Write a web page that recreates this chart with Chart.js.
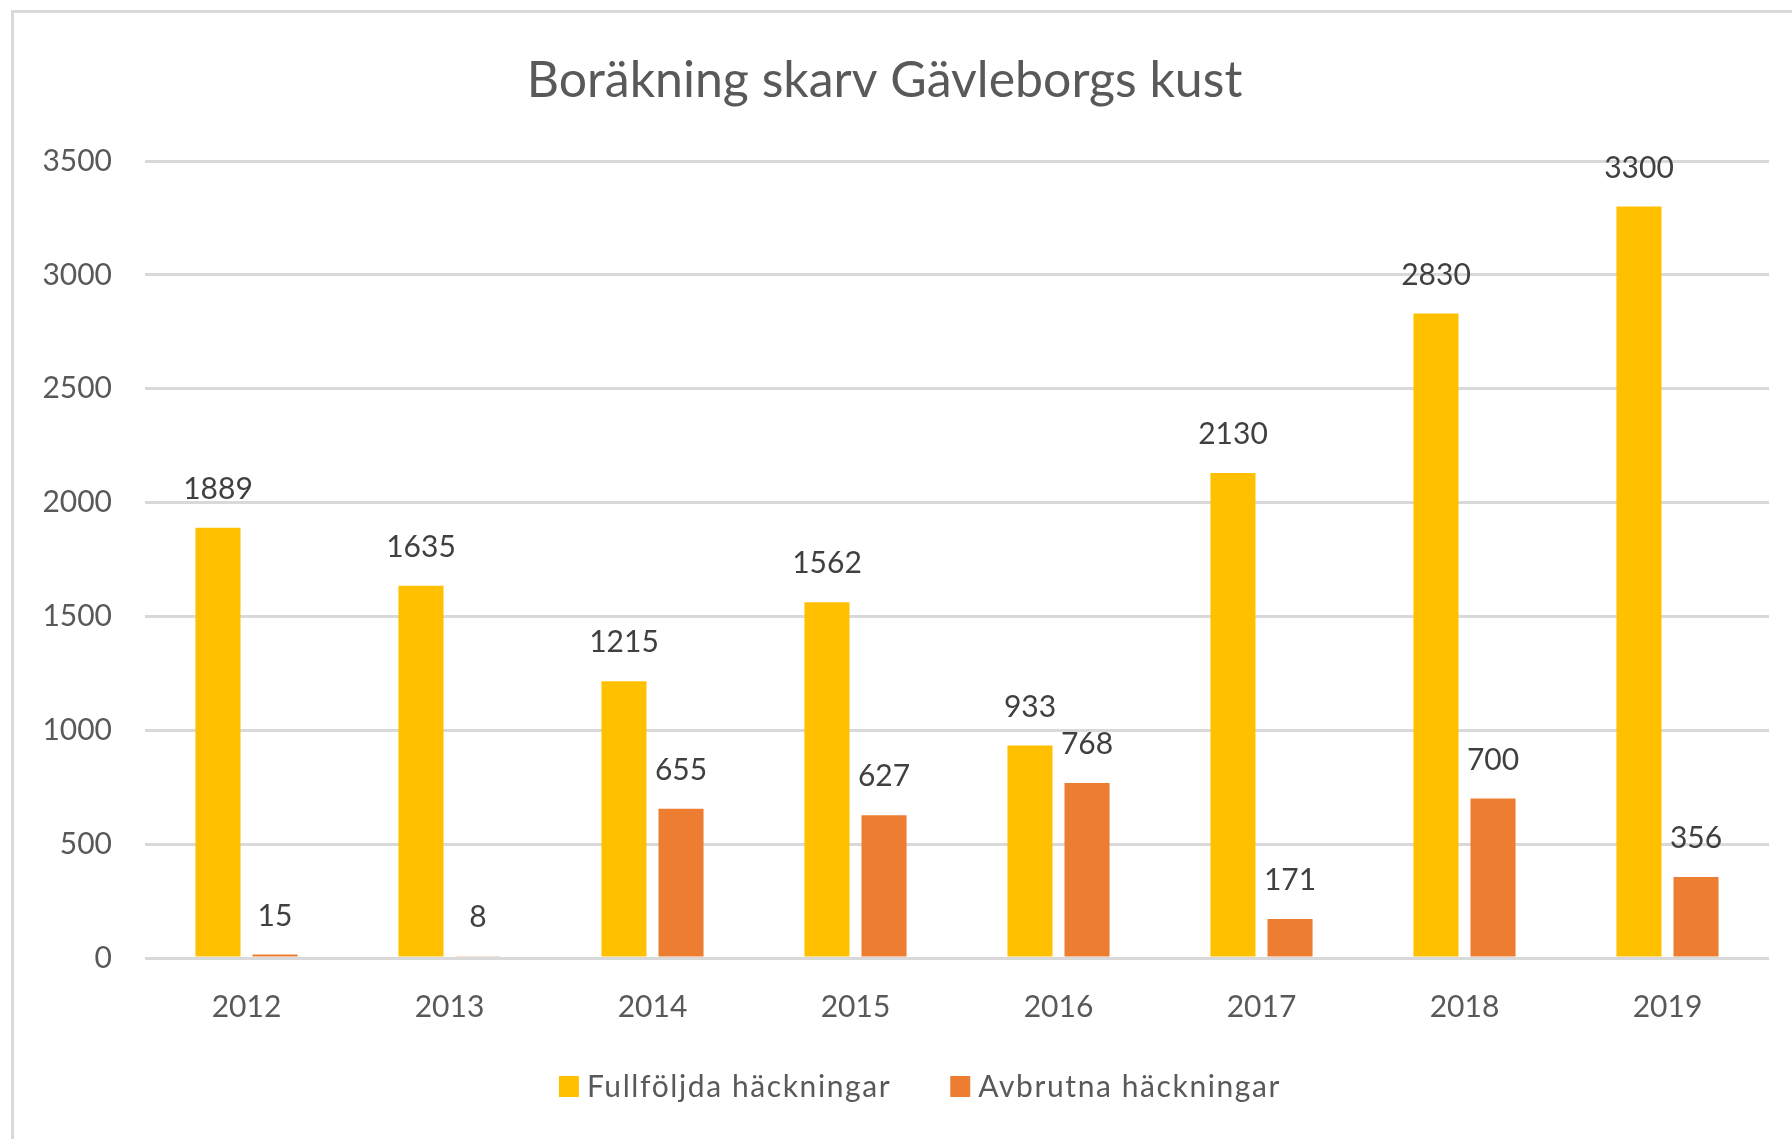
<!DOCTYPE html>
<html>
<head>
<meta charset="utf-8">
<title>Boräkning skarv Gävleborgs kust</title>
<script src="https://cdn.jsdelivr.net/npm/chart.js"></script>
<style>
  html, body { margin: 0; padding: 0; background: #fff; overflow: hidden; }
  #wrap { position: relative; width: 1792px; height: 1139px; }
  #frame {
    position: absolute; left: 11px; top: 10px; width: 1900px; height: 1300px;
    border-left: 3px solid #d9d9d9; border-top: 3px solid #d9d9d9;
    pointer-events: none;
  }
  canvas { position: absolute; left: 0; top: 0; }
</style>
</head>
<body>
<div id="wrap">
  <canvas id="chart" width="1792" height="1139"></canvas>
  <div id="frame"></div>
</div>
<script>
// chart data
const titleText = 'Boräkning skarv Gävleborgs kust';
const years = ['2012', '2013', '2014', '2015', '2016', '2017', '2018', '2019'];
const fullfoljda = [1889, 1635, 1215, 1562, 933, 2130, 2830, 3300];
const avbrutna = [15, 8, 655, 627, 768, 171, 700, 356];
const seriesNames = ['Fullföljda häckningar', 'Avbrutna häckningar'];
const yTicks = [0, 500, 1000, 1500, 2000, 2500, 3000, 3500];

const FONT = 'Lato, Carlito, Calibri, sans-serif';
const TEXT = '#595959';
const YELLOW = '#FFC000';
const ORANGE = '#ED7D31';

// value labels above each bar
const barLabels = {
  id: 'barLabels',
  afterDatasetsDraw(chart) {
    const ctx = chart.ctx;
    ctx.save();
    ctx.font = '30px ' + FONT;
    ctx.fillStyle = '#404040';
    ctx.textAlign = 'center';
    ctx.textBaseline = 'alphabetic';
    chart.data.datasets.forEach((ds, i) => {
      chart.getDatasetMeta(i).data.forEach((bar, j) => {
        ctx.fillText(String(ds.data[j]), bar.x, bar.y - 29);
      });
    });
    ctx.restore();
  }
};

// legend under the axis, like the excel one
const bottomLegend = {
  id: 'bottomLegend',
  afterDraw(chart) {
    const ctx = chart.ctx;
    ctx.save();
    ctx.font = '30px ' + FONT;
    ctx.textBaseline = 'alphabetic';
    ctx.letterSpacing = '1.6px';
    const items = chart.data.datasets.map(ds => ({
      text: ds.label, color: ds.backgroundColor, w: ctx.measureText(ds.label).width
    }));
    const box = 20, gap = 8, between = 59;
    let total = 0;
    items.forEach((it, i) => { total += box + gap + it.w + (i ? between : 0); });
    let x = 920 - total / 2;
    const baseY = 1097;
    items.forEach((it, i) => {
      if (i) x += between;
      ctx.fillStyle = it.color;
      ctx.fillRect(x, baseY - 21, box, 21);
      x += box + gap;
      ctx.fillStyle = TEXT;
      ctx.fillText(it.text, x, baseY);
      x += it.w;
    });
    ctx.restore();
  }
};

new Chart(document.getElementById('chart'), {
  type: 'bar',
  data: {
    labels: years,
    datasets: [
      { label: seriesNames[0], data: fullfoljda, backgroundColor: YELLOW,
        categoryPercentage: 0.562, barPercentage: 0.79 },
      { label: seriesNames[1], data: avbrutna, backgroundColor: ORANGE,
        categoryPercentage: 0.562, barPercentage: 0.79 }
    ]
  },
  options: {
    responsive: false,
    animation: false,
    layout: { padding: { left: 0, right: 23, top: 0, bottom: 91 } },
    scales: {
      x: {
        grid: { display: false },
        border: { display: false },
        ticks: { color: TEXT, font: { family: FONT, size: 30 }, padding: 23 },
        afterFit(scale) { scale.height = 90; }
      },
      y: {
        min: 0,
        max: 3500,
        afterBuildTicks(scale) { scale.ticks = yTicks.map(v => ({ value: v })); },
        grid: { color: '#d9d9d9', lineWidth: 3, drawTicks: false },
        border: { display: false },
        ticks: {
          color: TEXT,
          font: { family: FONT, size: 30 },
          padding: 33,
          callback: (v) => String(v)
        },
        afterFit(scale) { scale.width = 145; }
      }
    },
    plugins: {
      legend: { display: false },
      tooltip: { enabled: false },
      title: {
        display: true,
        text: titleText,
        color: TEXT,
        font: { family: FONT, size: 50, weight: 'normal' },
        padding: { top: 51, bottom: 50 }
      }
    }
  },
  plugins: [barLabels, bottomLegend]
});
</script>
</body>
</html>
